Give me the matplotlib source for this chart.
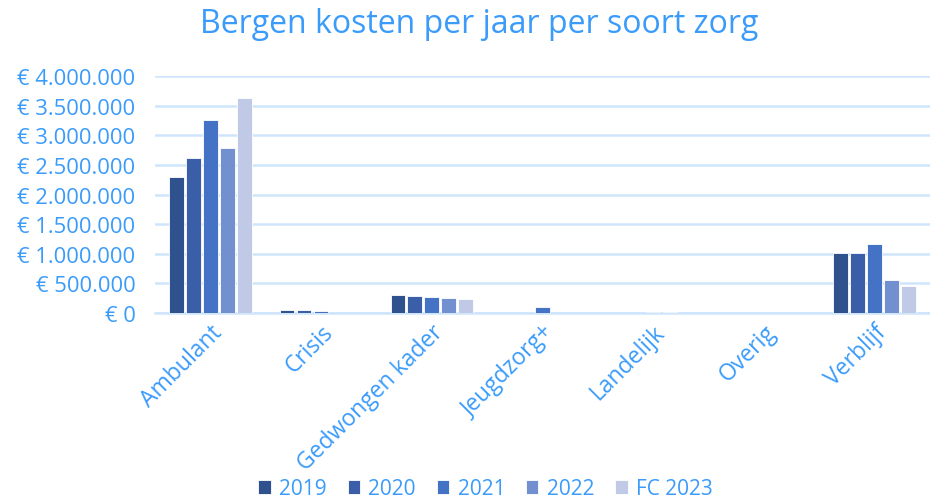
import numpy as np
import matplotlib.pyplot as plt
from matplotlib.ticker import FuncFormatter

categories = ['Ambulant', 'Crisis', 'Gedwongen kader', 'Jeugdzorg+',
              'Landelijk', 'Overig', 'Verblijf']
series = ['2019', '2020', '2021', '2022', 'FC 2023']
values = {
    '2019':    [2300000, 50000, 310000, 0, 0, 0, 1005000],
    '2020':    [2615000, 50000, 290000, 0, 0, 0, 1005000],
    '2021':    [3255000, 35000, 268000, 95000, 25000, 0, 1160000],
    '2022':    [2780000, 0, 248000, 0, 25000, 0, 555000],
    'FC 2023': [3630000, 0, 228000, 0, 0, 0, 460000],
}
colors = ['#2f528f', '#3a5ea8', '#4472c4', '#7290d0', '#c0c9e6']

text_col = '#3a9bfa'
plt.rcParams['font.family'] = ['Open Sans', 'DejaVu Sans']

fig = plt.figure(figsize=(9.3, 5.02), dpi=100)
ax = fig.add_axes([0.1667, 0.3745, 0.833, 0.472])

x = np.arange(len(categories))
w = 0.153
for i, s in enumerate(series):
    ax.bar(x + (i - 2) * w, values[s], width=w * 0.86, color=colors[i],
           edgecolor='white', linewidth=0.6, label=s, zorder=3)

ax.set_xlim(-0.5, len(categories) - 0.5)
ax.set_ylim(0, 4000000)
ax.set_yticks(np.arange(0, 4000001, 500000))

def euro(v, pos):
    return '€ ' + f'{int(v):,}'.replace(',', '.')

ax.yaxis.set_major_formatter(FuncFormatter(euro))
ax.grid(axis='y', color='#cfe5fc', linewidth=1.8, zorder=0)
for sp in ['top', 'right', 'left']:
    ax.spines[sp].set_visible(False)
ax.spines['bottom'].set_color('#cfe5fc')
ax.spines['bottom'].set_linewidth(1.8)
ax.tick_params(axis='y', length=0, colors=text_col, labelsize=15.8, pad=14)
ax.set_xticks(x)
ax.set_xticklabels(categories, rotation=45, ha='right', rotation_mode='anchor')
ax.tick_params(axis='x', length=0, colors=text_col, labelsize=16.5, pad=5)

fig.text(0.515, 0.952, 'Bergen kosten per jaar per soort zorg', ha='center',
         va='center', fontsize=23, color=text_col)

leg = fig.legend(loc='lower center', bbox_to_anchor=(0.522, -0.034), ncol=5,
                 frameon=False, fontsize=15, handlelength=0.6, handleheight=0.6,
                 handletextpad=0.4, columnspacing=1.0)
for t in leg.get_texts():
    t.set_color(text_col)

fig.savefig('out.png', dpi=100)
